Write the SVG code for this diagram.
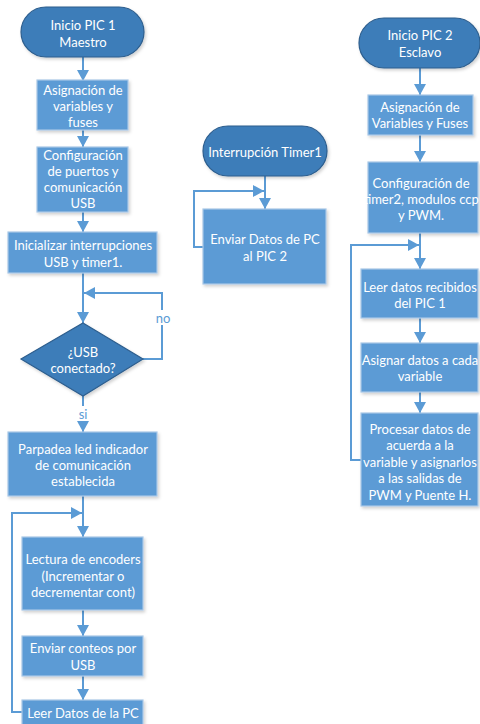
<svg xmlns="http://www.w3.org/2000/svg" width="480" height="724" viewBox="0 0 480 724">
<defs>
<marker id="ah" markerUnits="userSpaceOnUse" markerWidth="12" markerHeight="12" viewBox="0 0 12 12" refX="11" refY="6" orient="auto">
<path d="M0,0 L11,6 L0,12 Z" fill="#5B9BD5"/>
</marker>
<filter id="sh" x="-10%" y="-10%" width="130%" height="130%">
<feDropShadow dx="1.5" dy="2" stdDeviation="1.5" flood-color="#000" flood-opacity="0.18"/>
</filter>
</defs>
<style>
.box{fill:#5B9BD5;stroke:#A8C7E7;stroke-width:1.2;filter:url(#sh)}
.term{fill:#3E7DB9;stroke:#2D5E8E;stroke-width:1.2;filter:url(#sh)}
.t{font-family:Lato,"Open Sans","Liberation Sans",sans-serif;font-size:13px;fill:#FFFFFF;text-anchor:middle}
.lbl{font-family:Lato,"Open Sans","Liberation Sans",sans-serif;font-size:13px;fill:#5B9BD5;text-anchor:middle}
.c{fill:none;stroke:#5B9BD5;stroke-width:2}
</style>
<rect width="480" height="724" fill="#FFFFFF"/>
<g id="connectors">
<path class="c" d="M83,57 V81" marker-end="url(#ah)"/>
<path class="c" d="M83,130 V147" marker-end="url(#ah)"/>
<path class="c" d="M83,212 V232" marker-end="url(#ah)"/>
<path class="c" d="M83,273 V323" marker-end="url(#ah)"/>
<path class="c" d="M143,359 H162 V293 H84" marker-end="url(#ah)"/>
<path class="c" d="M83,396 V432" marker-end="url(#ah)"/>
<path class="c" d="M83,496 V537" marker-end="url(#ah)"/>
<path class="c" d="M83,610 V636" marker-end="url(#ah)"/>
<path class="c" d="M83,676 V700" marker-end="url(#ah)"/>
<path class="c" d="M22,712 H12 V513 H82" marker-end="url(#ah)"/>
<path class="c" d="M265,176 V209" marker-end="url(#ah)"/>
<path class="c" d="M203,247 H194 V191 H264" marker-end="url(#ah)"/>
<path class="c" d="M420,68 V95" marker-end="url(#ah)"/>
<path class="c" d="M420,135 V162" marker-end="url(#ah)"/>
<path class="c" d="M420,233 V269" marker-end="url(#ah)"/>
<path class="c" d="M361,460 H351 V245 H419" marker-end="url(#ah)"/>
<path class="c" d="M420,318 V343" marker-end="url(#ah)"/>
<path class="c" d="M420,392 V413" marker-end="url(#ah)"/>
<rect x="153" y="310" width="20" height="15" fill="#FFFFFF"/>
<text class="lbl" x="163" y="323">no</text>
<rect x="75" y="406" width="16" height="15" fill="#FFFFFF"/>
<text class="lbl" x="83" y="419">si</text>
</g>
<g id="inicio1">
<rect class="term" x="21" y="7" width="123" height="50" rx="25"/>
<text class="t" x="83" y="30">Inicio PIC 1</text>
<text class="t" x="83" y="47">Maestro</text>
</g>
<g id="asignacion1">
<rect class="box" x="37" y="80" width="91" height="50"/>
<text class="t" x="83" y="95">Asignación de</text>
<text class="t" x="83" y="111">variables y</text>
<text class="t" x="83" y="127">fuses</text>
</g>
<g id="configuracion1">
<rect class="box" x="37" y="147" width="91" height="65"/>
<text class="t" x="83" y="160">Configuración</text>
<text class="t" x="83" y="176">de puertos y</text>
<text class="t" x="83" y="192">comunicación</text>
<text class="t" x="83" y="208">USB</text>
</g>
<g id="inicializar">
<rect class="box" x="8" y="232" width="149" height="41"/>
<text class="t" x="83" y="250">Inicializar interrupciones</text>
<text class="t" x="83" y="267">USB y timer1.</text>
</g>
<g id="usbconectado">
<polygon class="term" points="83,323 143,359 83,396 21,359"/>
<text class="t" x="83" y="357">¿USB</text>
<text class="t" x="83" y="373">conectado?</text>
</g>
<g id="parpadea">
<rect class="box" x="8" y="432" width="149" height="64"/>
<text class="t" x="83" y="454">Parpadea led indicador</text>
<text class="t" x="83" y="470">de comunicación</text>
<text class="t" x="83" y="486">establecida</text>
</g>
<g id="lectura">
<rect class="box" x="22" y="537" width="121" height="73"/>
<text class="t" x="83" y="564">Lectura de encoders</text>
<text class="t" x="83" y="581">(Incrementar o</text>
<text class="t" x="83" y="597">decrementar cont)</text>
</g>
<g id="enviarconteos">
<rect class="box" x="22" y="636" width="121" height="40"/>
<text class="t" x="83" y="653">Enviar conteos por</text>
<text class="t" x="83" y="670">USB</text>
</g>
<g id="leerdatospc">
<rect class="box" x="22" y="700" width="121" height="40"/>
<text class="t" x="83" y="718">Leer Datos de la PC</text>
</g>
<g id="interrupcion">
<rect class="term" x="203" y="126" width="124" height="50" rx="25"/>
<text class="t" x="265" y="157">Interrupción Timer1</text>
</g>
<g id="enviardatos">
<rect class="box" x="203" y="209" width="123" height="75"/>
<text class="t" x="265" y="244">Enviar Datos de PC</text>
<text class="t" x="265" y="261">al PIC 2</text>
</g>
<g id="inicio2">
<rect class="term" x="359" y="18" width="121" height="50" rx="25"/>
<text class="t" x="420" y="40">Inicio PIC 2</text>
<text class="t" x="420" y="57">Esclavo</text>
</g>
<g id="asignacion2">
<rect class="box" x="368" y="95" width="105" height="40"/>
<text class="t" x="420" y="112">Asignación de</text>
<text class="t" x="420" y="128">Variables y Fuses</text>
</g>
<g id="configuracion2">
<rect class="box" x="368" y="162" width="110" height="71"/>
<text class="t" x="421" y="188">Configuración de</text>
<text class="t" x="421" y="204">timer2, modulos ccp</text>
<text class="t" x="421" y="220">y PWM.</text>
</g>
<g id="leerdatos">
<rect class="box" x="361" y="269" width="117" height="49"/>
<text class="t" x="420" y="292">Leer datos recibidos</text>
<text class="t" x="420" y="308">del PIC 1</text>
</g>
<g id="asignardatos">
<rect class="box" x="361" y="343" width="117" height="49"/>
<text class="t" x="420" y="365">Asignar datos a cada</text>
<text class="t" x="420" y="381">variable</text>
</g>
<g id="procesar">
<rect class="box" x="361" y="413" width="117" height="93"/>
<text class="t" x="420" y="434">Procesar datos de</text>
<text class="t" x="420" y="450">acuerda a la</text>
<text class="t" x="420" y="467">variable y asignarlos</text>
<text class="t" x="420" y="483">a las salidas de</text>
<text class="t" x="420" y="500">PWM y Puente H.</text>
</g>
</svg>
